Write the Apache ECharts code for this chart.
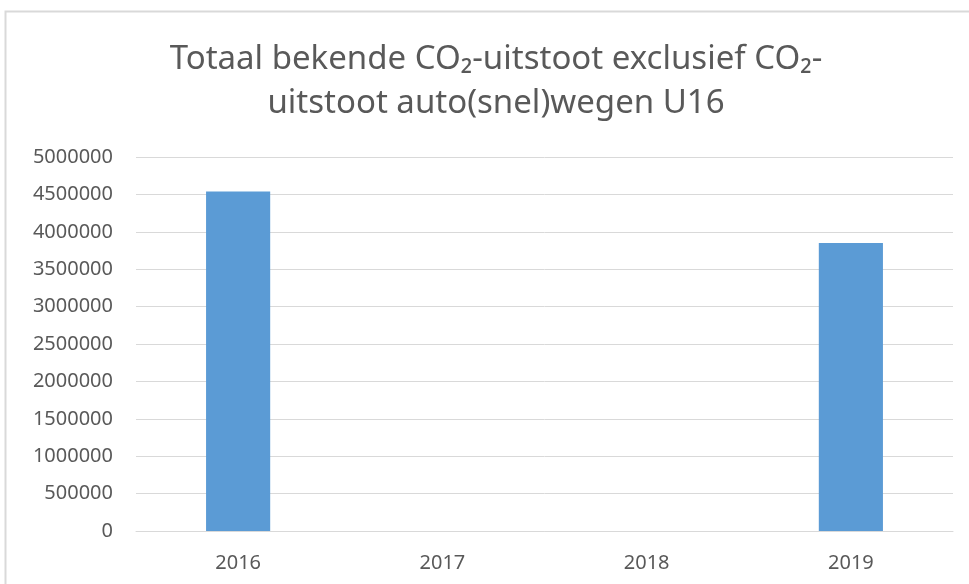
<!DOCTYPE html>
<html>
<head>
<meta charset="utf-8">
<script src="https://cdn.jsdelivr.net/npm/echarts@6/dist/echarts.min.js"></script>
<style>
html,body{margin:0;padding:0;background:#fff;}
#chart{width:969px;height:584px;}
</style>
</head>
<body>
<div id="chart"></div>
<script>
var years=['2016','2017','2018','2019'];
var uitstoot=[4540000,null,null,3850000];
var yMin=0,yMax=5000000,yStep=500000;

var chart=echarts.init(document.getElementById('chart'));
var option={
	animation:false,
	textStyle:{fontFamily:'Noto Sans'},
	graphic:[{
		type:'rect',
		shape:{x:5.5,y:11.5,width:1000,height:1000},
		style:{fill:'none',stroke:'#d9d9d9',lineWidth:2}
	}],
	title:{
		text:'Totaal bekende CO\u2082-uitstoot exclusief CO\u2082-\nuitstoot auto(snel)wegen U16',
		left:491,
		top:33,
		textAlign:'center',
		textStyle:{color:'#595959',fontSize:33,fontWeight:'normal',lineHeight:44,fontFamily:'Noto Sans'}
	},
	grid:{left:136,right:16,top:157,bottom:53},
	xAxis:{
		type:'category',
		data:years,
		axisLine:{show:true,lineStyle:{color:'#d9d9d9',width:1}},
		axisTick:{show:false},
		axisLabel:{color:'#595959',fontSize:20,margin:22}
	},
	yAxis:{
		type:'value',
		min:yMin,max:yMax,interval:yStep,
		axisLine:{show:false},
		axisTick:{show:false},
		splitLine:{lineStyle:{color:'#d9d9d9',width:1}},
		axisLabel:{color:'#595959',fontSize:20,margin:23,formatter:function(v){return String(v);}}
	},
	series:[{
		type:'bar',
		data:uitstoot,
		barWidth:'31.4%',
		itemStyle:{color:'#5b9bd5'}
	}]
};
chart.setOption(option);
</script>
</body>
</html>
